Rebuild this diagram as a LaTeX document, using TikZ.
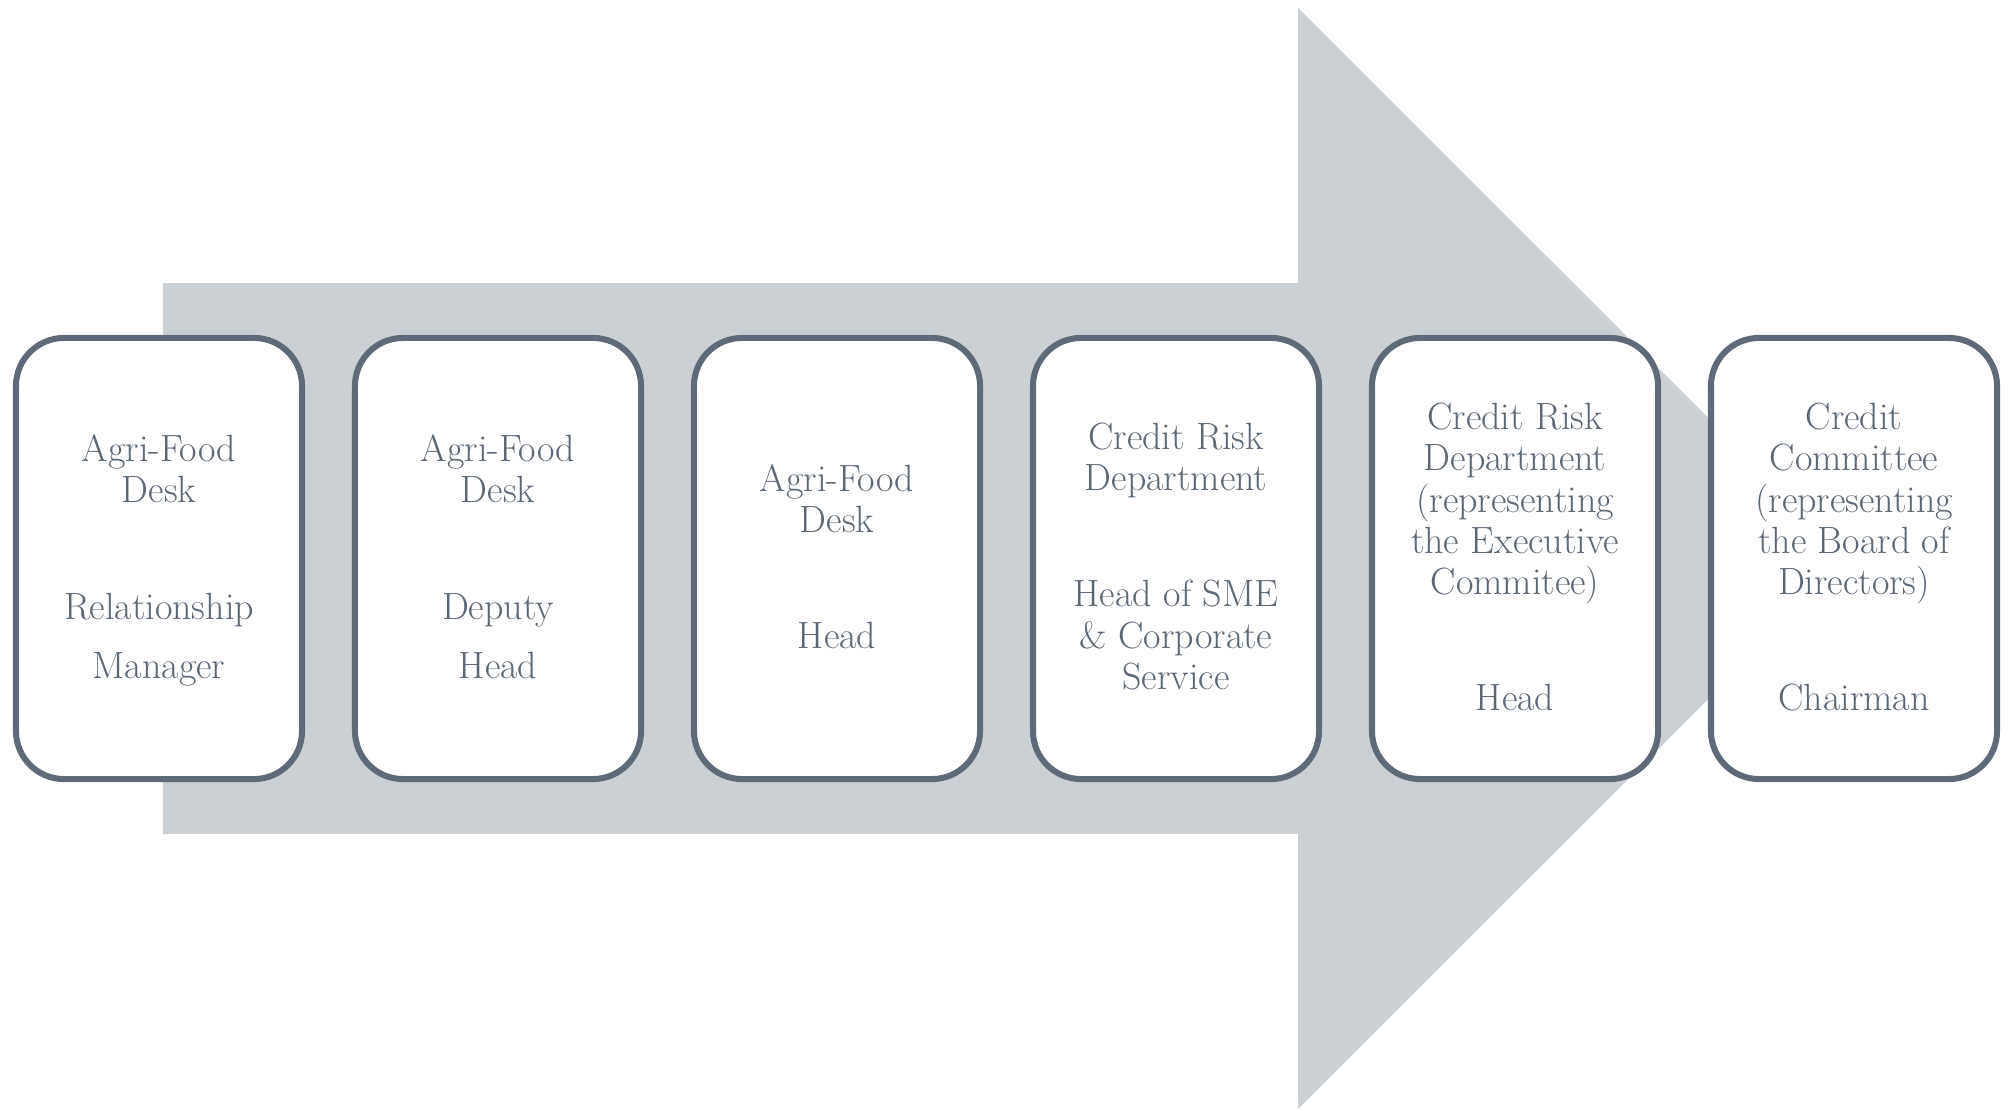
\documentclass[tikz,border=0pt]{standalone}
\definecolor{arrowc}{HTML}{CBD0D5}
\definecolor{boxc}{HTML}{5E6A78}
\definecolor{txtc}{HTML}{5B6775}
\begin{document}
\begin{tikzpicture}[x=0.025cm,y=-0.025cm,
  box/.style={draw=boxc, line width=4.3pt, fill=white, rounded corners=1.2cm,
    minimum width=7.15cm, minimum height=11.025cm, inner sep=0pt},
  lbl/.style={anchor=base, text=txtc, inner sep=0pt, font=\fontsize{27}{32}\selectfont}]
\useasboundingbox (0,0) rectangle (2009,1110);
% big arrow
\fill[arrowc] (163,283) -- (1298,283) -- (1298,8) -- (1849,558.5) -- (1298,1109) -- (1298,834) -- (163,834) -- cycle;
% boxes
\node[box] (b1) at (159,558.5) {};
\node[box] (b2) at (498,558.5) {};
\node[box] (b3) at (837,558.5) {};
\node[box] (b4) at (1176,558.5) {};
\node[box] (b5) at (1515,558.5) {};
\node[box] (b6) at (1854,558.5) {};
% box 1
\node[lbl] (t1a) at (159,461) {Agri-Food};
\node[lbl] (t1b) at (159,502) {Desk};
\node[lbl] (t1c) at (159,619) {Relationship};
\node[lbl] (t1d) at (159,678) {Manager};
% box 2
\node[lbl] (t2a) at (498,461) {Agri-Food};
\node[lbl] (t2b) at (498,502) {Desk};
\node[lbl] (t2c) at (498,619) {Deputy};
\node[lbl] (t2d) at (498,678) {Head};
% box 3
\node[lbl] (t3a) at (837,491) {Agri-Food};
\node[lbl] (t3b) at (837,532) {Desk};
\node[lbl] (t3c) at (837,648) {Head};
% box 4
\node[lbl] (t4a) at (1176,449) {Credit Risk};
\node[lbl] (t4b) at (1176,490) {Department};
\node[lbl] (t4c) at (1176,606) {Head of SME};
\node[lbl] (t4d) at (1176,648) {\& Corporate};
\node[lbl] (t4e) at (1176,689) {Service};
% box 5
\node[lbl] (t5a) at (1515,429) {Credit Risk};
\node[lbl] (t5b) at (1515,470) {Department};
\node[lbl] (t5c) at (1515,512) {(representing};
\node[lbl] (t5d) at (1515,553) {the Executive};
\node[lbl] (t5e) at (1515,594) {Commitee)};
\node[lbl] (t5f) at (1515,710) {Head};
% box 6
\node[lbl] (t6a) at (1854,429) {Credit};
\node[lbl] (t6b) at (1854,470) {Committee};
\node[lbl] (t6c) at (1854,512) {(representing};
\node[lbl] (t6d) at (1854,553) {the Board of};
\node[lbl] (t6e) at (1854,594) {Directors)};
\node[lbl] (t6f) at (1854,710) {Chairman};
\end{tikzpicture}
\end{document}
